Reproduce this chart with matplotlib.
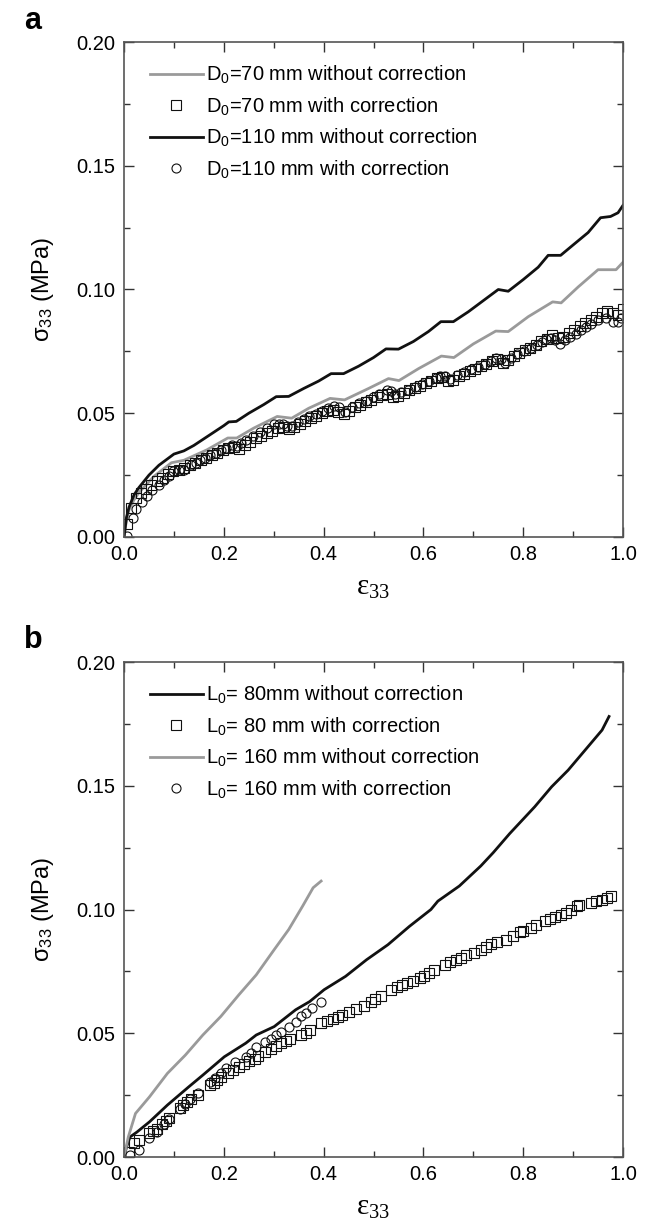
import numpy as np
import matplotlib
matplotlib.use("Agg")
import matplotlib.pyplot as plt
from matplotlib.ticker import MultipleLocator

plt.rcParams['font.family'] = ['Liberation Sans', 'DejaVu Sans']

# ---------------- panel a : diameter effect ----------------
a_x_d70_line = [0.0, 0.005, 0.01, 0.02, 0.03, 0.06, 0.095, 0.12, 0.166, 0.208, 0.226,
                0.26, 0.307, 0.336, 0.37, 0.413, 0.442, 0.49, 0.53, 0.551, 0.59,
                0.636, 0.661, 0.70, 0.745, 0.77, 0.81, 0.859, 0.876, 0.91, 0.95,
                0.986, 1.0]
a_y_d70_line = [0.0, 0.007, 0.011, 0.015, 0.018, 0.0245, 0.030, 0.031, 0.0352, 0.040, 0.040,
                0.044, 0.0487, 0.048, 0.052, 0.056, 0.0554, 0.060, 0.064, 0.0632, 0.068,
                0.0731, 0.0725, 0.078, 0.0832, 0.083, 0.089, 0.095, 0.0946, 0.101, 0.108,
                0.108, 0.111]

a_x_d110_line = [0.0, 0.005, 0.01, 0.02, 0.03, 0.05, 0.07, 0.09, 0.10, 0.12, 0.14, 0.17,
                 0.20, 0.21, 0.225, 0.25, 0.28, 0.305, 0.33, 0.36, 0.39, 0.415, 0.44,
                 0.47, 0.50, 0.525, 0.55, 0.58, 0.61, 0.635, 0.66, 0.69, 0.72, 0.75,
                 0.77, 0.80, 0.83, 0.85, 0.875, 0.90, 0.93, 0.955, 0.975, 0.99, 1.0]
a_y_d110_line = [0.0, 0.008, 0.012, 0.017, 0.020, 0.025, 0.029, 0.032, 0.0335, 0.0348,
                 0.037, 0.041, 0.045, 0.0465, 0.0467, 0.050, 0.0535, 0.0567, 0.0568,
                 0.060, 0.063, 0.066, 0.066, 0.069, 0.0725, 0.076, 0.0759, 0.079, 0.083,
                 0.087, 0.087, 0.091, 0.0955, 0.100, 0.0993, 0.104, 0.109, 0.1138,
                 0.1138, 0.118, 0.123, 0.129, 0.1295, 0.131, 0.134]

a_x_d70_corr = [0.005, 0.014, 0.025, 0.035, 0.045, 0.055, 0.066, 0.077, 0.088, 0.099,
                0.11, 0.121, 0.132, 0.143, 0.154, 0.165, 0.176, 0.187, 0.198, 0.209,
                0.22, 0.231, 0.242, 0.253, 0.264, 0.275, 0.286, 0.297, 0.308, 0.319,
                0.33, 0.341, 0.352, 0.363, 0.374, 0.385, 0.396, 0.407, 0.418, 0.429,
                0.44, 0.451, 0.462, 0.473, 0.484, 0.495, 0.506, 0.517, 0.528, 0.539,
                0.55, 0.561, 0.572, 0.583, 0.594, 0.605, 0.616, 0.627, 0.638, 0.649,
                0.66, 0.671, 0.682, 0.693, 0.704, 0.715, 0.726, 0.737, 0.748, 0.759,
                0.77, 0.781, 0.792, 0.803, 0.814, 0.825, 0.836, 0.847, 0.858, 0.869,
                0.88, 0.891, 0.902, 0.913, 0.924, 0.935, 0.946, 0.957, 0.968, 0.979,
                0.99, 1.0]
a_y_d70_corr = [0.0054, 0.0117, 0.0157, 0.0177, 0.0195, 0.021, 0.0225, 0.024, 0.0255, 0.0265,
                0.027, 0.028, 0.029, 0.030, 0.031, 0.032, 0.033, 0.034, 0.035, 0.036,
                0.0362, 0.0355, 0.037, 0.0385, 0.040, 0.041, 0.042, 0.043, 0.044, 0.0443,
                0.0436, 0.0445, 0.0458, 0.047, 0.048, 0.049, 0.050, 0.051, 0.0515, 0.0505,
                0.0495, 0.051, 0.0525, 0.0535, 0.0545, 0.0555, 0.0565, 0.0575, 0.0578, 0.0565,
                0.057, 0.058, 0.0592, 0.0602, 0.0612, 0.0622, 0.0632, 0.0642, 0.0645, 0.063,
                0.0635, 0.065, 0.066, 0.067, 0.068, 0.069, 0.070, 0.0712, 0.0718, 0.0705,
                0.0715, 0.073, 0.0742, 0.0755, 0.0765, 0.0777, 0.079, 0.0802, 0.0815, 0.0805,
                0.0808, 0.0825, 0.0838, 0.0852, 0.0865, 0.0878, 0.089, 0.0905, 0.0912, 0.0905,
                0.0898, 0.0923]

a_x_d110_corr = [0.005, 0.018, 0.025, 0.037, 0.047, 0.057, 0.07, 0.081, 0.09, 0.099,
                 0.11, 0.12, 0.134, 0.145, 0.152, 0.163, 0.173, 0.184, 0.194, 0.205,
                 0.216, 0.226, 0.235, 0.244, 0.258, 0.272, 0.286, 0.30, 0.31, 0.318,
                 0.327, 0.336, 0.348, 0.36, 0.371, 0.384, 0.396, 0.408, 0.42, 0.43,
                 0.442, 0.456, 0.47, 0.484, 0.498, 0.512, 0.527, 0.535, 0.544, 0.556,
                 0.569, 0.583, 0.597, 0.611, 0.625, 0.634, 0.643, 0.654, 0.668, 0.682,
                 0.696, 0.71, 0.724, 0.735, 0.746, 0.755, 0.763, 0.776, 0.788, 0.802,
                 0.816, 0.827, 0.837, 0.846, 0.855, 0.864, 0.873, 0.884, 0.894, 0.905,
                 0.915, 0.926, 0.936, 0.95, 0.965, 0.979, 0.989, 0.996]
a_y_d110_corr = [0.0005, 0.0077, 0.0113, 0.014, 0.0165, 0.019, 0.021, 0.023, 0.0248, 0.0265,
                 0.027, 0.027, 0.029, 0.030, 0.031, 0.032, 0.033, 0.034, 0.035, 0.036,
                 0.0372, 0.0368, 0.038, 0.039, 0.041, 0.0426, 0.044, 0.0455, 0.0458, 0.0455,
                 0.045, 0.0448, 0.0465, 0.0478, 0.0488, 0.0498, 0.0508, 0.052, 0.053, 0.0525,
                 0.0505, 0.0525, 0.054, 0.055, 0.0565, 0.0578, 0.0592, 0.059, 0.0578, 0.0585,
                 0.0595, 0.0605, 0.0617, 0.063, 0.0642, 0.065, 0.065, 0.064, 0.0655, 0.0665,
                 0.0677, 0.0688, 0.0698, 0.071, 0.0722, 0.0718, 0.0705, 0.0722, 0.0738, 0.075,
                 0.0762, 0.0775, 0.0788, 0.080, 0.0805, 0.0795, 0.078, 0.0795, 0.0808, 0.0822,
                 0.0838, 0.085, 0.0862, 0.0875, 0.0885, 0.0868, 0.087, 0.0885]

# ---------------- panel b : length effect ----------------
b_x_l80_line = [0.0, 0.005, 0.012, 0.026, 0.051, 0.087, 0.13, 0.158, 0.201, 0.244, 0.265,
                0.301, 0.344, 0.372, 0.401, 0.444, 0.486, 0.529, 0.572, 0.615, 0.629,
                0.672, 0.715, 0.74, 0.773, 0.823, 0.857, 0.89, 0.924, 0.958, 0.972]
b_y_l80_line = [0.0, 0.004, 0.0081, 0.0101, 0.0142, 0.021, 0.0284, 0.0331, 0.0405, 0.046,
                0.0493, 0.0527, 0.0595, 0.0628, 0.0676, 0.073, 0.0797, 0.0858, 0.0932,
                0.100, 0.1034, 0.1095, 0.1176, 0.123, 0.1307, 0.1415, 0.1496, 0.1563,
                0.1644, 0.1725, 0.178]

b_x_l160_line = [0.0, 0.0086, 0.023, 0.051, 0.087, 0.123, 0.158, 0.194, 0.23, 0.265,
                 0.301, 0.33, 0.358, 0.379, 0.395]
b_y_l160_line = [0.0, 0.0081, 0.0176, 0.0243, 0.0338, 0.0412, 0.0493, 0.0568, 0.0655,
                 0.0736, 0.0838, 0.0919, 0.1014, 0.1088, 0.1115]

b_x_l80_corr = [0.01, 0.021, 0.031, 0.051, 0.059, 0.066, 0.076, 0.084, 0.091, 0.112,
                0.119, 0.126, 0.134, 0.148, 0.173, 0.18, 0.187, 0.194, 0.208, 0.218,
                0.23, 0.24, 0.251, 0.262, 0.269, 0.283, 0.294, 0.305, 0.315, 0.325,
                0.333, 0.354, 0.364, 0.372, 0.394, 0.406, 0.419, 0.428, 0.437, 0.451,
                0.465, 0.48, 0.494, 0.503, 0.515, 0.536, 0.547, 0.558, 0.568, 0.579,
                0.594, 0.601, 0.612, 0.622, 0.643, 0.654, 0.665, 0.676, 0.686, 0.701,
                0.715, 0.726, 0.736, 0.748, 0.765, 0.78, 0.793, 0.8, 0.815, 0.826,
                0.843, 0.853, 0.864, 0.876, 0.886, 0.896, 0.907, 0.911, 0.936, 0.946,
                0.957, 0.968, 0.975]
b_y_l80_corr = [0.002, 0.0057, 0.007, 0.0097, 0.0106, 0.0115, 0.0135, 0.0146, 0.0158, 0.020,
                0.0212, 0.0223, 0.0235, 0.025, 0.029, 0.030, 0.031, 0.0322, 0.0338, 0.0352,
                0.0365, 0.0377, 0.0389, 0.0398, 0.0408, 0.0425, 0.0435, 0.0448, 0.046, 0.0468,
                0.0476, 0.0493, 0.0503, 0.0514, 0.054, 0.0548, 0.0558, 0.0566, 0.0574, 0.0585,
                0.0597, 0.0612, 0.0628, 0.0638, 0.0649, 0.0676, 0.0686, 0.0696, 0.0704, 0.0712,
                0.0725, 0.073, 0.0742, 0.0754, 0.0777, 0.0787, 0.0797, 0.0806, 0.0815, 0.0825,
                0.0835, 0.0848, 0.0862, 0.087, 0.0878, 0.0893, 0.0908, 0.0915, 0.0926, 0.0938,
                0.0953, 0.0962, 0.0969, 0.0978, 0.0986, 0.0998, 0.1014, 0.1018, 0.1027, 0.1033,
                0.104, 0.1047, 0.1054]

b_x_l160_corr = [0.012, 0.031, 0.051, 0.066, 0.08, 0.091, 0.112, 0.123, 0.133, 0.148,
                 0.173, 0.183, 0.194, 0.205, 0.223, 0.244, 0.255, 0.265, 0.283, 0.294,
                 0.305, 0.315, 0.33, 0.344, 0.354, 0.365, 0.376, 0.394]
b_y_l160_corr = [0.0007, 0.003, 0.0078, 0.0101, 0.0135, 0.0155, 0.0196, 0.0216, 0.0236, 0.026,
                 0.0304, 0.0318, 0.0338, 0.0358, 0.0385, 0.0405, 0.0419, 0.0443, 0.0466, 0.0476,
                 0.0493, 0.0507, 0.0527, 0.0547, 0.0568, 0.0581, 0.0601, 0.0628]

GRAY = '#9a9a9a'
BLACK = '#111111'

fig = plt.figure(figsize=(6.51, 12.21), dpi=100)
ax_a = fig.add_axes([0.1905, 0.5602, 0.7665, 0.4054])
ax_b = fig.add_axes([0.1905, 0.0524, 0.7665, 0.4054])

mk = dict(linestyle='none', markerfacecolor='none', markeredgecolor=BLACK,
          markersize=6.5, markeredgewidth=0.8)

ax_a.plot(a_x_d70_line, a_y_d70_line, color=GRAY, lw=2.0,
          label=r'D$\mathregular{_0}$=70 mm without correction')
ax_a.plot(a_x_d70_corr, a_y_d70_corr, marker='s', **mk,
          label=r'D$\mathregular{_0}$=70 mm with correction')
ax_a.plot(a_x_d110_line, a_y_d110_line, color=BLACK, lw=2.0,
          label=r'D$\mathregular{_0}$=110 mm without correction')
ax_a.plot(a_x_d110_corr, a_y_d110_corr, marker='o', **mk,
          label=r'D$\mathregular{_0}$=110 mm with correction')

ax_b.plot(b_x_l80_line, b_y_l80_line, color=BLACK, lw=2.0,
          label=r'L$\mathregular{_0}$= 80mm without correction')
ax_b.plot(b_x_l80_corr, b_y_l80_corr, marker='s', **mk,
          label=r'L$\mathregular{_0}$= 80 mm with correction')
ax_b.plot(b_x_l160_line, b_y_l160_line, color=GRAY, lw=2.0,
          label=r'L$\mathregular{_0}$= 160 mm without correction')
ax_b.plot(b_x_l160_corr, b_y_l160_corr, marker='o', **mk,
          label=r'L$\mathregular{_0}$= 160 mm with correction')

for ax in (ax_a, ax_b):
    ax.set_xlim(0, 1.0)
    ax.set_ylim(0, 0.20)
    ax.xaxis.set_major_locator(MultipleLocator(0.2))
    ax.xaxis.set_minor_locator(MultipleLocator(0.1))
    ax.yaxis.set_major_locator(MultipleLocator(0.05))
    ax.yaxis.set_minor_locator(MultipleLocator(0.025))
    ax.xaxis.set_major_formatter(plt.FormatStrFormatter('%.1f'))
    ax.yaxis.set_major_formatter(plt.FormatStrFormatter('%.2f'))
    ax.tick_params(which='both', direction='in', top=True, right=True,
                   colors='#333333', labelcolor='black', labelsize=14.5, width=1.0)
    ax.tick_params(which='major', length=7, pad=6)
    ax.tick_params(which='minor', length=4)
    for s in ax.spines.values():
        s.set_color('#555555')
        s.set_linewidth(1.2)
    ax.set_ylabel(r'$\mathregular{\sigma_{33}}$ (MPa)', fontsize=17, labelpad=15)
    ax.set_xlabel(r'$\mathregular{\varepsilon_{33}}$', fontsize=21,
                  fontfamily='Liberation Serif', labelpad=8)
    ax.legend(loc='upper left', frameon=False, fontsize=14.5, handlelength=2.6,
              handletextpad=0.15, labelspacing=0.45, borderaxespad=0.7,
              bbox_to_anchor=(0.008, 1.0))

fig.text(0.037, 0.983, 'a', fontsize=22, fontweight='bold', va='center')
fig.text(0.037, 0.476, 'b', fontsize=22, fontweight='bold', va='center')

fig.savefig('out.png', dpi=100)
